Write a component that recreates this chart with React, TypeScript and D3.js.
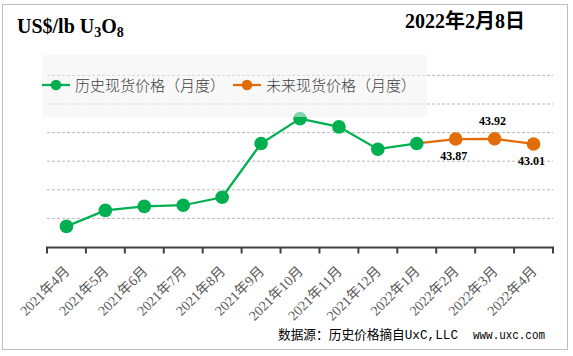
import React from "react";
import * as d3 from "d3";

const months = [
  "2021年4月", "2021年5月", "2021年6月", "2021年7月", "2021年8月", "2021年9月",
  "2021年10月", "2021年11月", "2021年12月", "2022年1月", "2022年2月", "2022年3月", "2022年4月",
];
const historicalMonths = months.slice(0, 10);
const historicalValues = [28.6, 31.4, 32.1, 32.3, 33.7, 43.1, 47.45, 46.0, 42.1, 43.1];
const forecastMonths = ["2022年1月", "2022年2月", "2022年3月", "2022年4月"];
const forecastValues = [43.1, 43.87, 43.92, 43.01];
const forecastLabels = ["", "43.87", "43.92", "43.01"];
const yTicks = [30, 35, 40, 45, 50, 55];
const legendNames = ["历史现货价格（月度）", "未来现货价格（月度）"];

const W = 573;
const H = 356;
const GREEN = "#00B050";
const ORANGE = "#E36C0A";

export default function App() {
  const x = d3.scaleBand<string>().domain(months).range([47, 553]).padding(0);
  const y = d3.scaleLinear().domain([25, 55]).range([247, 75.4]);
  const cx = (m: string) => (x(m) as number) + x.bandwidth() / 2;

  const line = d3
    .line<[string, number]>()
    .x((d) => cx(d[0]))
    .y((d) => y(d[1]));

  const hist: [string, number][] = historicalMonths.map((m, i) => [m, historicalValues[i]]);
  const fore: [string, number][] = forecastMonths.map((m, i) => [m, forecastValues[i]]);

  const tickXs = months.map((m) => x(m) as number).concat([x.range()[1]]);

  const serif = "'Liberation Serif', 'Times New Roman', 'Noto Sans CJK SC', serif";
  const cjk = "'Noto Sans CJK SC', sans-serif";

  return (
    <svg
      width={W}
      height={H}
      style={{ position: "absolute", left: 0, top: 0, background: "#fff" }}
    >
      <rect x={2.5} y={4.5} width={565} height={345} fill="#fff" stroke="#BFBFBF" strokeWidth={1} />

      {/* gridlines */}
      {yTicks.map((t) => (
        <line
          key={t}
          x1={47}
          x2={553}
          y1={y(t)}
          y2={y(t)}
          stroke="#A6A6A6"
          strokeWidth={0.8}
          strokeDasharray="3 2"
        />
      ))}

      {/* x axis */}
      <line x1={46} x2={554} y1={247.5} y2={247.5} stroke="#404040" strokeWidth={2} />
      {tickXs.map((t, i) => (
        <line key={i} x1={t} x2={t} y1={247} y2={253.5} stroke="#404040" strokeWidth={2} />
      ))}
      {months.map((m) => (
        <text
          key={m}
          transform={`translate(${cx(m) + 4},${272}) rotate(-45)`}
          textAnchor="end"
          fontFamily={serif}
          fontSize={14}
          fill="#595959"
        >
          {m}
        </text>
      ))}

      {/* lines */}
      <path d={line(fore) || ""} fill="none" stroke={ORANGE} strokeWidth={2.25} />
      <path d={line(hist) || ""} fill="none" stroke={GREEN} strokeWidth={2.25} />
      {hist.map((d) => (
        <circle key={d[0]} cx={cx(d[0])} cy={y(d[1])} r={6.8} fill={GREEN} />
      ))}
      {fore.slice(1).map((d) => (
        <circle key={d[0]} cx={cx(d[0])} cy={y(d[1])} r={6.8} fill={ORANGE} />
      ))}
      {fore.map((d, i) =>
        forecastLabels[i] ? (
          <text
            key={"l" + i}
            x={cx(d[0]) - 2}
            y={i === 2 ? y(d[1]) - 13.5 : y(d[1]) + 21}
            textAnchor="middle"
            fontFamily={serif}
            fontWeight="bold"
            fontSize={12}
            fill="#000"
          >
            {forecastLabels[i]}
          </text>
        ) : null
      )}

      {/* legend */}
      <rect x={42} y={55} width={385} height={62} fill="#F2F2F2" fillOpacity={0.55} />
      <line x1={42} x2={70} y1={85} y2={85} stroke={GREEN} strokeWidth={2.25} />
      <circle cx={56} cy={85} r={5.3} fill={GREEN} />
      <text x={75} y={90.5} fontFamily={cjk} fontWeight={300} fontSize={15} fill="#404040">
        {legendNames[0]}
      </text>
      <line x1={233} x2={261} y1={85} y2={85} stroke={ORANGE} strokeWidth={2.25} />
      <circle cx={247} cy={85} r={5.3} fill={ORANGE} />
      <text x={266} y={90.5} fontFamily={cjk} fontWeight={300} fontSize={15} fill="#404040">
        {legendNames[1]}
      </text>

      {/* titles */}
      <text x={17} y={33} fontFamily={serif} fontWeight="bold" fontSize={20} fill="#000">
        US$/lb U<tspan fontSize={14} dy={4}>3</tspan>
        <tspan dy={-4}>O</tspan>
        <tspan fontSize={14} dy={4}>8</tspan>
      </text>
      <text x={405} y={28} fontFamily={serif} fontWeight="bold" fontSize={20} fill="#000">
        2022年2月8日
      </text>

      {/* source */}
      <text
        x={278}
        y={339}
        fontFamily="'Liberation Mono', 'Noto Sans CJK SC', monospace"
        fontSize={13}
        fill="#000"
        textLength={180}
        lengthAdjust="spacingAndGlyphs"
      >
        数据源：历史价格摘自UxC,LLC
      </text>
      <text
        x={473}
        y={339}
        fontFamily="'Liberation Mono', 'Noto Sans CJK SC', monospace"
        fontSize={13}
        fill="#000"
        textLength={72}
        lengthAdjust="spacingAndGlyphs"
      >
        www.uxc.com
      </text>
    </svg>
  );
}
